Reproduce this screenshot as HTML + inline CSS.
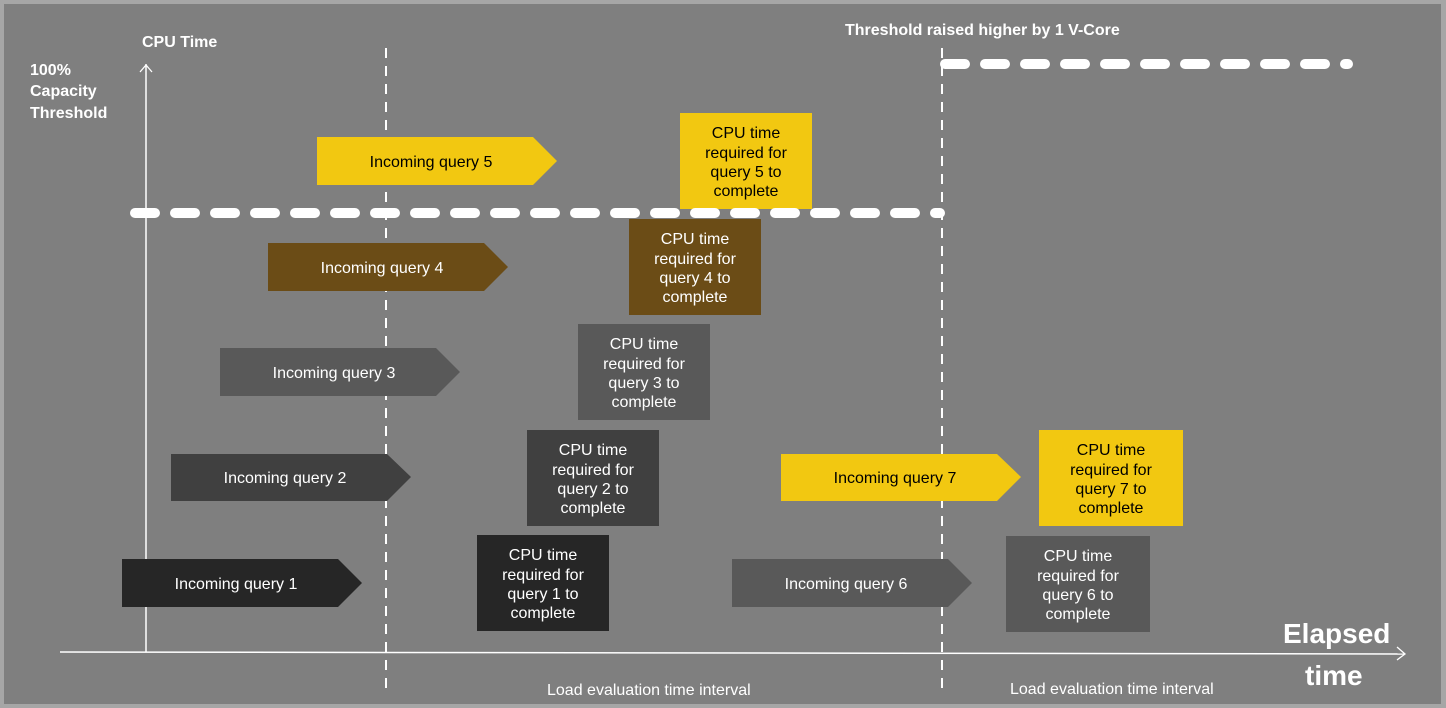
<!DOCTYPE html>
<html><head><style>
html,body{margin:0;padding:0;background:#a6a6a6;}
svg{display:block;font-family:"Liberation Sans",sans-serif;}
</style></head><body>
<svg width="1446" height="708" viewBox="0 0 1446 708">
<rect x="0" y="0" width="1446" height="708" fill="#a6a6a6"/>
<rect x="4" y="4" width="1437" height="700" fill="#7f7f7f"/>
<line x1="146" y1="64" x2="146" y2="652" stroke="#fff" stroke-width="1.5"/>
<polyline points="140,72 146,65 152,72" fill="none" stroke="#fff" stroke-width="1.3"/>
<line x1="60" y1="652" x2="1404" y2="654" stroke="#fff" stroke-width="1.5"/>
<polyline points="1397,647 1405,654 1397,660" fill="none" stroke="#fff" stroke-width="1.3"/>
<line x1="386" y1="48" x2="386" y2="692" stroke="#fff" stroke-width="2" stroke-dasharray="10,8"/>
<line x1="942" y1="48" x2="942" y2="692" stroke="#fff" stroke-width="2" stroke-dasharray="10,8"/>
<g fill="#fff" font-size="16">
<text x="142" y="47" font-weight="bold">CPU Time</text>
<text x="30" y="75" font-weight="bold">100%</text>
<text x="30" y="96" font-weight="bold">Capacity</text>
<text x="30" y="118" font-weight="bold">Threshold</text>
<text x="845" y="35" font-weight="bold">Threshold raised higher by 1 V-Core</text>
<text x="547" y="695">Load evaluation time interval</text>
<text x="1010" y="694">Load evaluation time interval</text>
<text x="1283" y="643" font-size="28" font-weight="bold">Elapsed</text>
<text x="1305" y="685" font-size="28" font-weight="bold">time</text>
</g>
<g font-size="16" text-anchor="middle">
<polygon points="317,137 533,137 557,161 533,185 317,185" fill="#f2c811"/>
<text x="431" y="167" fill="#000">Incoming query 5</text>
<polygon points="268,243 484,243 508,267 484,291 268,291" fill="#6b4c16"/>
<text x="382" y="273" fill="#fff">Incoming query 4</text>
<polygon points="220,348 436,348 460,372 436,396 220,396" fill="#595959"/>
<text x="334" y="378" fill="#fff">Incoming query 3</text>
<polygon points="171,454 387,454 411,477 387,501 171,501" fill="#404040"/>
<text x="285" y="483" fill="#fff">Incoming query 2</text>
<polygon points="122,559 338,559 362,583 338,607 122,607" fill="#262626"/>
<text x="236" y="589" fill="#fff">Incoming query 1</text>
<polygon points="732,559 948,559 972,583 948,607 732,607" fill="#595959"/>
<text x="846" y="589" fill="#fff">Incoming query 6</text>
<polygon points="781,454 997,454 1021,477 997,501 781,501" fill="#f2c811"/>
<text x="895" y="483" fill="#000">Incoming query 7</text>
</g>
<g font-size="16" text-anchor="middle">
<rect x="680" y="113" width="132" height="96" fill="#f2c811"/>
<g fill="#000"><text x="746" y="138">CPU time</text><text x="746" y="158">required for</text><text x="746" y="177">query 5 to</text><text x="746" y="196">complete</text></g>
<rect x="629" y="219" width="132" height="96" fill="#6b4c16"/>
<g fill="#fff"><text x="695" y="244">CPU time</text><text x="695" y="264">required for</text><text x="695" y="283">query 4 to</text><text x="695" y="302">complete</text></g>
<rect x="578" y="324" width="132" height="96" fill="#595959"/>
<g fill="#fff"><text x="644" y="349">CPU time</text><text x="644" y="369">required for</text><text x="644" y="388">query 3 to</text><text x="644" y="407">complete</text></g>
<rect x="527" y="430" width="132" height="96" fill="#404040"/>
<g fill="#fff"><text x="593" y="455">CPU time</text><text x="593" y="475">required for</text><text x="593" y="494">query 2 to</text><text x="593" y="513">complete</text></g>
<rect x="477" y="535" width="132" height="96" fill="#262626"/>
<g fill="#fff"><text x="543" y="560">CPU time</text><text x="543" y="580">required for</text><text x="543" y="599">query 1 to</text><text x="543" y="618">complete</text></g>
<rect x="1006" y="536" width="144" height="96" fill="#595959"/>
<g fill="#fff"><text x="1078" y="561">CPU time</text><text x="1078" y="581">required for</text><text x="1078" y="600">query 6 to</text><text x="1078" y="619">complete</text></g>
<rect x="1039" y="430" width="144" height="96" fill="#f2c811"/>
<g fill="#000"><text x="1111" y="455">CPU time</text><text x="1111" y="475">required for</text><text x="1111" y="494">query 7 to</text><text x="1111" y="513">complete</text></g>
</g>
<line x1="135" y1="213" x2="940" y2="213" stroke="#fff" stroke-width="10" stroke-linecap="round" stroke-dasharray="20,20"/>
<line x1="945" y1="64" x2="1348" y2="64" stroke="#fff" stroke-width="10" stroke-linecap="round" stroke-dasharray="20,20"/>
</svg>
</body></html>
